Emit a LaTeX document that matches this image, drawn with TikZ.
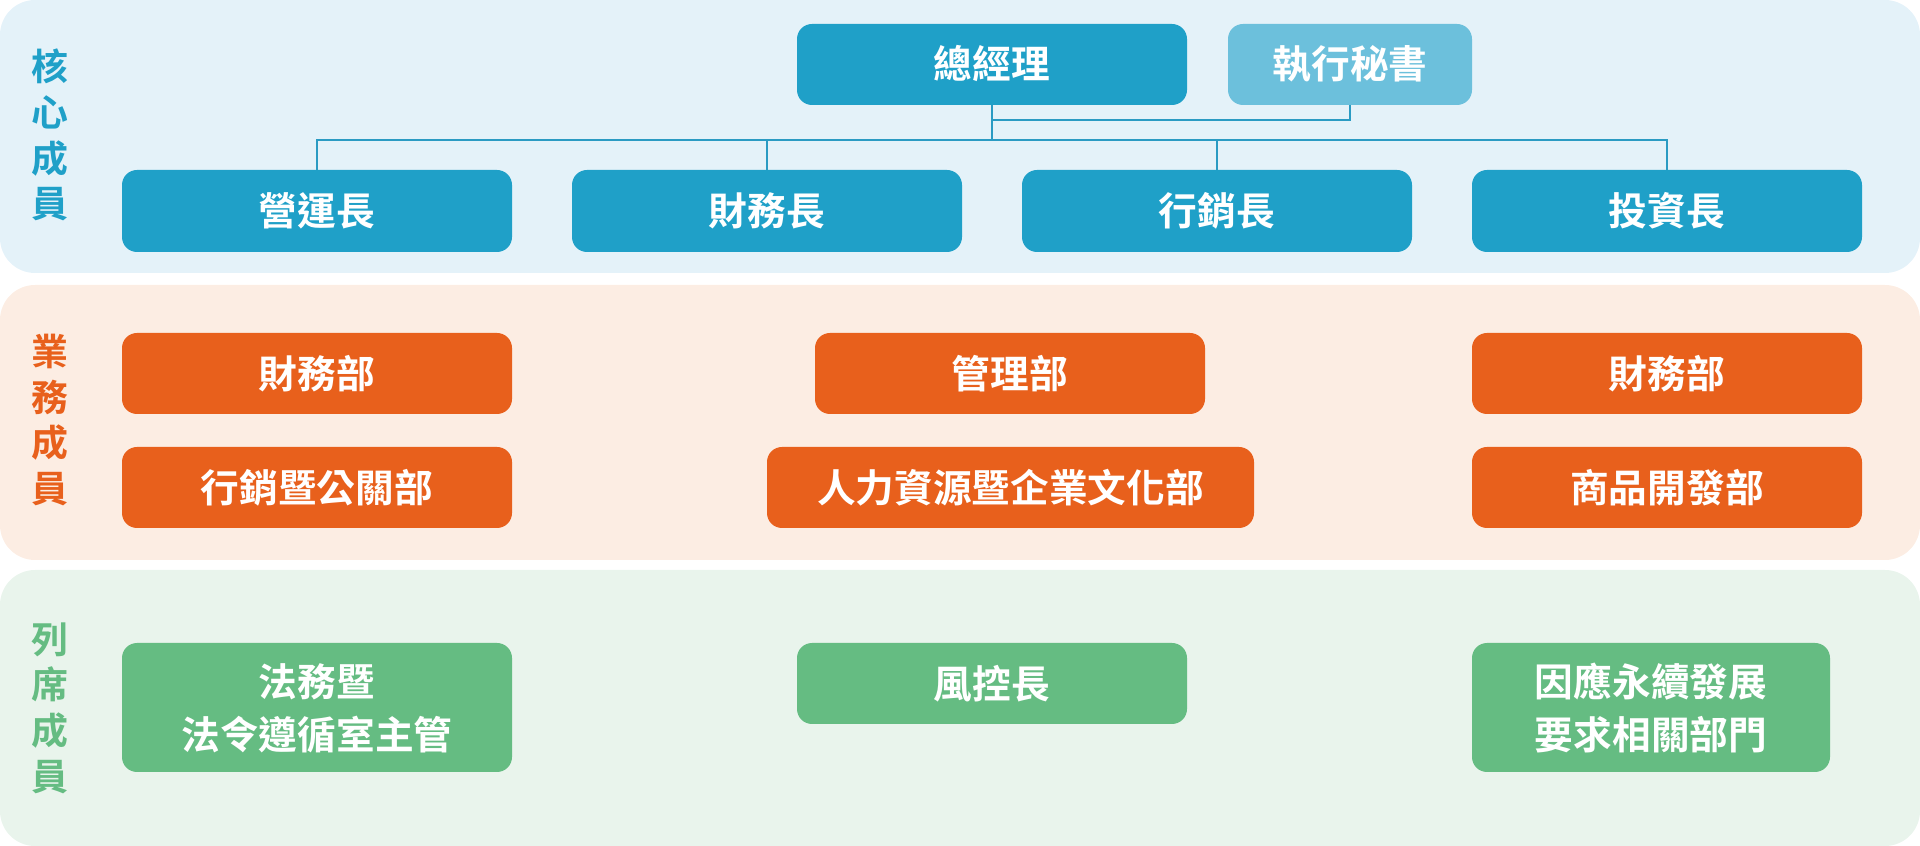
\documentclass[tikz,border=0pt]{standalone}
\usepackage{fontspec}
\setmainfont{Noto Sans CJK TC}[BoldFont={Noto Sans CJK TC Bold}]
\usetikzlibrary{positioning}
\definecolor{coreblue}{HTML}{1FA0C8}
\definecolor{lightblue}{HTML}{6CC0DC}
\definecolor{bizorange}{HTML}{E8601C}
\definecolor{attgreen}{HTML}{65BC82}
\definecolor{bandblue}{HTML}{E4F2F9}
\definecolor{bandorange}{HTML}{FCEDE3}
\definecolor{bandgreen}{HTML}{E9F4EC}
\definecolor{linkblue}{HTML}{2A9BC3}

\begin{document}
\begin{tikzpicture}[x=0.01cm, y=-0.01cm,
   band/.style={rounded corners=0.35cm},
   box/.style={rounded corners=0.15cm, text=white, font=\bfseries\fontsize{11}{15}\selectfont, align=center, inner sep=0pt},
   side/.style={font=\bfseries\fontsize{10.5}{13}\selectfont, align=center},
   link/.style={draw=linkblue, line width=0.8pt}]
\useasboundingbox (0,0) rectangle (1920,846);
% bands
\fill[band, bandblue] (0,0) rectangle (1920,273);
\fill[band, bandorange] (0,285) rectangle (1920,560);
\fill[band, bandgreen] (0,570) rectangle (1920,846);

\node[side, text=coreblue] (lcore) at (50,135) {核\\心\\成\\員};
\node[side, text=bizorange] (lbiz) at (50,420) {業\\務\\成\\員};
\node[side, text=attgreen] (latt) at (50,708) {列\\席\\成\\員};

% core members
\fill[box, coreblue] (797,24) rectangle (1187,105);
\node[box] (gm) at (992,64) {總經理};
\fill[box, lightblue] (1228,24) rectangle (1472,105);
\node[box] (sec) at (1350,64) {執行秘書};
\foreach \n/\t/\x in {coo/營運長/317, cfo/財務長/767, cmo/行銷長/1217, cio/投資長/1667} {
   \fill[box, coreblue] (\x-195,170) rectangle (\x+195,252);
   \node[box] (\n) at (\x,211) {\t};
   \coordinate (\n-top) at (\x,170);
}
\coordinate (gm-bot) at (992,105);
\coordinate (sec-bot) at (1350,105);
\coordinate (hub) at (992,120);
\draw[link] (sec-bot) -- (1350,120) -- (hub);
\draw[link] (gm-bot) -- (992,140);
\draw[link] (coo-top) -- (317,140) -- (1667,140) -- (cio-top);
\draw[link] (cfo-top) -- (767,140);
\draw[link] (cmo-top) -- (1217,140);

% business members
\foreach \n/\t/\xa/\xb/\ya in {fin1/財務部/122/512/333, mgmt/管理部/815/1205/333, fin2/財務部/1472/1862/333,
      mkt/行銷暨公關部/122/512/447, hr/人力資源暨企業文化部/767/1254/447, prod/商品開發部/1472/1862/447} {
   \fill[box, bizorange] (\xa,\ya) rectangle (\xb,\ya+81);
   \node[box] (\n) at ({(\xa+\xb)/2},\ya+41) {\t};
}

% attending members
\fill[box, attgreen] (122,643) rectangle (512,772);
\node[box] (legal) at (317,708) {法務暨\\法令遵循室主管};
\fill[box, attgreen] (797,643) rectangle (1187,724);
\node[box] (risk) at (992,684) {風控長};
\fill[box, attgreen] (1472,643) rectangle (1830,772);
\node[box] (esg) at (1651,708) {因應永續發展\\要求相關部門};
\end{tikzpicture}
\end{document}
